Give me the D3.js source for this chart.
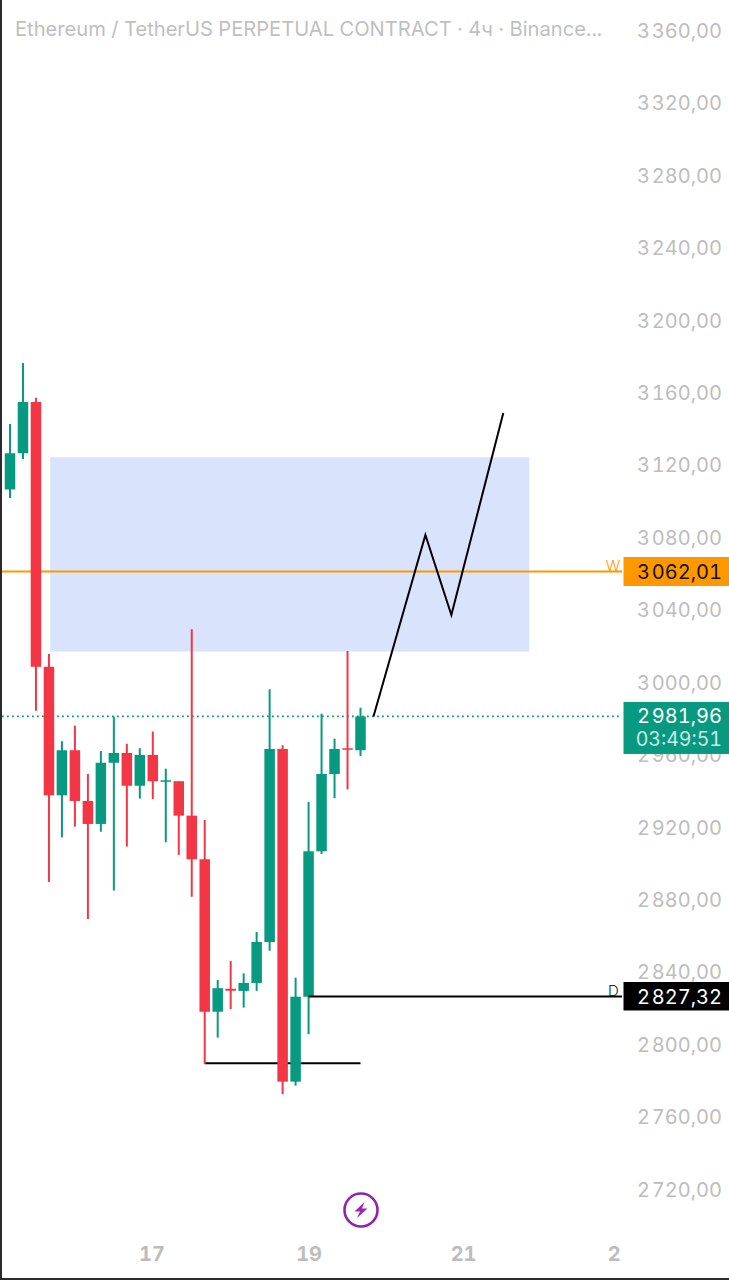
<!DOCTYPE html>
<html><head><meta charset="utf-8">
<script src="https://cdn.jsdelivr.net/npm/d3@7/dist/d3.min.js"></script>
<style>html,body{margin:0;padding:0;background:#fff}svg{display:block}text{font-family:Inter,Roboto,sans-serif;font-variant-numeric:tabular-nums}</style>
</head><body><svg id="c" width="729" height="1280"></svg>
<script>
const opens  = [3107.3,3127.3,3155.6,3009.4,2938.4,2963.3,2935.3,2922.6,2956.4,2961.8,2943.7,2960.7,2946.2,2946.2,2927.2,2903.1,2818.9,2831.6,2830.4,2834.8,2857.4,2964.0,2780.3,2827.2,2907.5,2950.2,2964.4,2963.3];
const highs  = [3143.5,3177.1,3158.0,3016.5,2968.3,2976.9,2950.2,2962.9,2981.96,2966.9,2964.4,2973.6,2953.1,2946.2,3030.1,2924.8,2836.4,2846.9,2840.1,2863.0,2997.0,2966.0,2837.7,2934.7,2983.5,2969.7,3018.1,2986.8];
const lows   = [3102.6,3124.1,2985.1,2890.6,2915.2,2921.1,2870.1,2918.3,2885.8,2910.1,2936.6,2936.4,2912.5,2905.5,2882.4,2790.1,2804.6,2820.4,2821.2,2830.4,2852.6,2773.3,2778.1,2806.5,2906.0,2936.8,2941.7,2960.1];
const closes = [3127.3,3155.6,3009.4,2938.4,2963.3,2935.3,2922.6,2956.4,2961.8,2943.7,2960.7,2946.2,2946.7,2927.2,2903.1,2818.9,2831.9,2830.5,2834.8,2857.4,2964.0,2780.3,2827.2,2907.5,2950.2,2964.0,2963.8,2981.96];
const priceTicks = d3.range(2720,3361,40);
const dateLabels = ["17","19","21","2"];
const datePositions = [10.9,23,34.9,46.5];
const zoneBars = [3.1,40];
const zonePrices = [3125.1,3017.8];
const zigzagBars = [28,32,34,38];
const zigzagPrices = [2981.96,3082.2,3038.0,3149.5];
const weeklyLevel = 3062.01, lastPrice = 2981.96, dailyLevel = 2827.32;
const lowLevel = 2790.4, lowLevelBars = [15,27];
const dailyStartBar = 23;
const countdown = "03:49:51";
const title = "Ethereum / TetherUS PERPETUAL CONTRACT · 4ч · Binance...";

const RED="#f23645", GREEN="#089981", AXIS="#bdbdbd", ORANGE="#ff9800";
const svg=d3.select("#c");
const x=d3.scaleLinear().domain([0,27]).range([10,360.5]);
const y=d3.scaleLinear().domain([3062.01,2827.32]).range([571.5,996.5]);
const loc=d3.formatLocale({decimal:",",thousands:"\u200A",grouping:[3],currency:["",""]});
const fmt=loc.format(",.2f");
const paneR=622;

// zone
svg.append("rect").attr("x",x(zoneBars[0])).attr("width",x(zoneBars[1])-x(zoneBars[0]))
  .attr("y",y(zonePrices[0])).attr("height",y(zonePrices[1])-y(zonePrices[0])).attr("fill","#d9e3fb");

// y axis
const yAxis=d3.axisRight(y).tickValues(priceTicks).tickFormat(fmt).tickSize(0).tickPadding(0);
const gy=svg.append("g").attr("transform","translate(722,0)").call(yAxis);
gy.select(".domain").remove();
gy.selectAll("text").attr("text-anchor","end").attr("dy","0.27em").attr("fill",AXIS)
  .style("font-size","20px").style("font-family","Inter,Roboto,sans-serif");

// x labels
const xAxis=d3.axisBottom(x).tickValues(datePositions).tickFormat((d,i)=>dateLabels[i]).tickSize(0).tickPadding(0);
const gx=svg.append("g").attr("transform","translate(0,1247)").call(xAxis);
gx.select(".domain").remove();
gx.selectAll("text").attr("fill",AXIS).attr("dy","0.71em").style("font-size","20px").style("font-weight","700").style("font-family","Inter,Roboto,sans-serif");

// candles
const data=opens.map((o,i)=>({i,o,h:highs[i],l:lows[i],c:closes[i],col:closes[i]>=o?GREEN:RED}));
// level lines under candles
svg.append("line").attr("x1",2).attr("x2",paneR).attr("y1",y(weeklyLevel)).attr("y2",y(weeklyLevel)).attr("stroke",ORANGE).attr("stroke-width",2);
svg.append("line").attr("x1",2).attr("x2",paneR).attr("y1",y(lastPrice)).attr("y2",y(lastPrice)).attr("stroke",GREEN).attr("stroke-width",1.8).attr("stroke-dasharray","1.8 3.2");
svg.append("line").attr("x1",x(lowLevelBars[0])).attr("x2",x(lowLevelBars[1])).attr("y1",y(lowLevel)).attr("y2",y(lowLevel)).attr("stroke","#000").attr("stroke-width",2);

const g=svg.append("g").selectAll("g").data(data).join("g");
g.append("line").attr("x1",d=>x(d.i)).attr("x2",d=>x(d.i)).attr("y1",d=>y(d.h)).attr("y2",d=>y(d.l)).attr("stroke",d=>d.col).attr("stroke-width",2);
g.append("rect").attr("x",d=>x(d.i)-5.25).attr("width",10.5)
  .attr("y",d=>y(Math.max(d.o,d.c))).attr("height",d=>Math.max(1.5,Math.abs(y(d.o)-y(d.c)))).attr("fill",d=>d.col);

svg.append("line").attr("x1",x(dailyStartBar)).attr("x2",paneR).attr("y1",y(dailyLevel)).attr("y2",y(dailyLevel)).attr("stroke","#000").attr("stroke-width",2);

// zigzag
const line=d3.line().x(d=>x(d[0])).y(d=>y(d[1]));
svg.append("path").attr("d",line(zigzagBars.map((b,i)=>[b,zigzagPrices[i]]))).attr("fill","none").attr("stroke","#000").attr("stroke-width",2);

// level letters
svg.append("text").attr("x",613).attr("y",y(weeklyLevel)-0.5).attr("text-anchor","middle").attr("fill",ORANGE).style("font-size","15px").style("font-weight","300").text("W");
svg.append("text").attr("x",613.5).attr("y",y(dailyLevel)-0.5).attr("text-anchor","middle").attr("fill","#222").style("font-size","15px").style("font-weight","300").text("D");

// price tags
function tag(v,top,h,fill,txt,txtCol,yOff){
  svg.append("rect").attr("x",623.5).attr("width",105.5).attr("y",y(v)+top).attr("height",h).attr("fill",fill);
  svg.append("text").attr("x",722).attr("y",y(v)+yOff).attr("text-anchor","end").attr("fill",txtCol).style("font-size","20px").text(txt);
}
tag(weeklyLevel,-14.5,29,ORANGE,fmt(weeklyLevel),"#111",7);
tag(lastPrice,-14.5,52,GREEN,fmt(lastPrice),"#fff",7);
svg.append("text").attr("x",722).attr("y",y(lastPrice)+29.5).attr("text-anchor","end").attr("fill","#c9ece4").style("font-size","19.5px").text(countdown);
tag(dailyLevel,-14.5,28.5,"#000",fmt(dailyLevel),"#fff",7);

// title
svg.append("text").attr("x",15).attr("y",36).attr("fill","#bfbfbf").style("font-size","20.15px").text(title);

// icon
const icon=svg.append("g").attr("transform","translate(361,1210)");
icon.append("circle").attr("r",16.5).attr("fill","#fff").attr("stroke","#8e24aa").attr("stroke-width",2.6);
icon.append("path").attr("d","M3.5,-8 L-6.5,1.5 L-1,1.5 L-4,8 L6.5,-1.5 L1,-1.5 Z").attr("fill","#9c27b0");

// frame
svg.append("rect").attr("x",0).attr("y",0).attr("width",2).attr("height",1280).attr("fill","#2b2b2b");
svg.append("rect").attr("x",0).attr("y",1278).attr("width",729).attr("height",2).attr("fill","#2b2b2b");
</script></body></html>
